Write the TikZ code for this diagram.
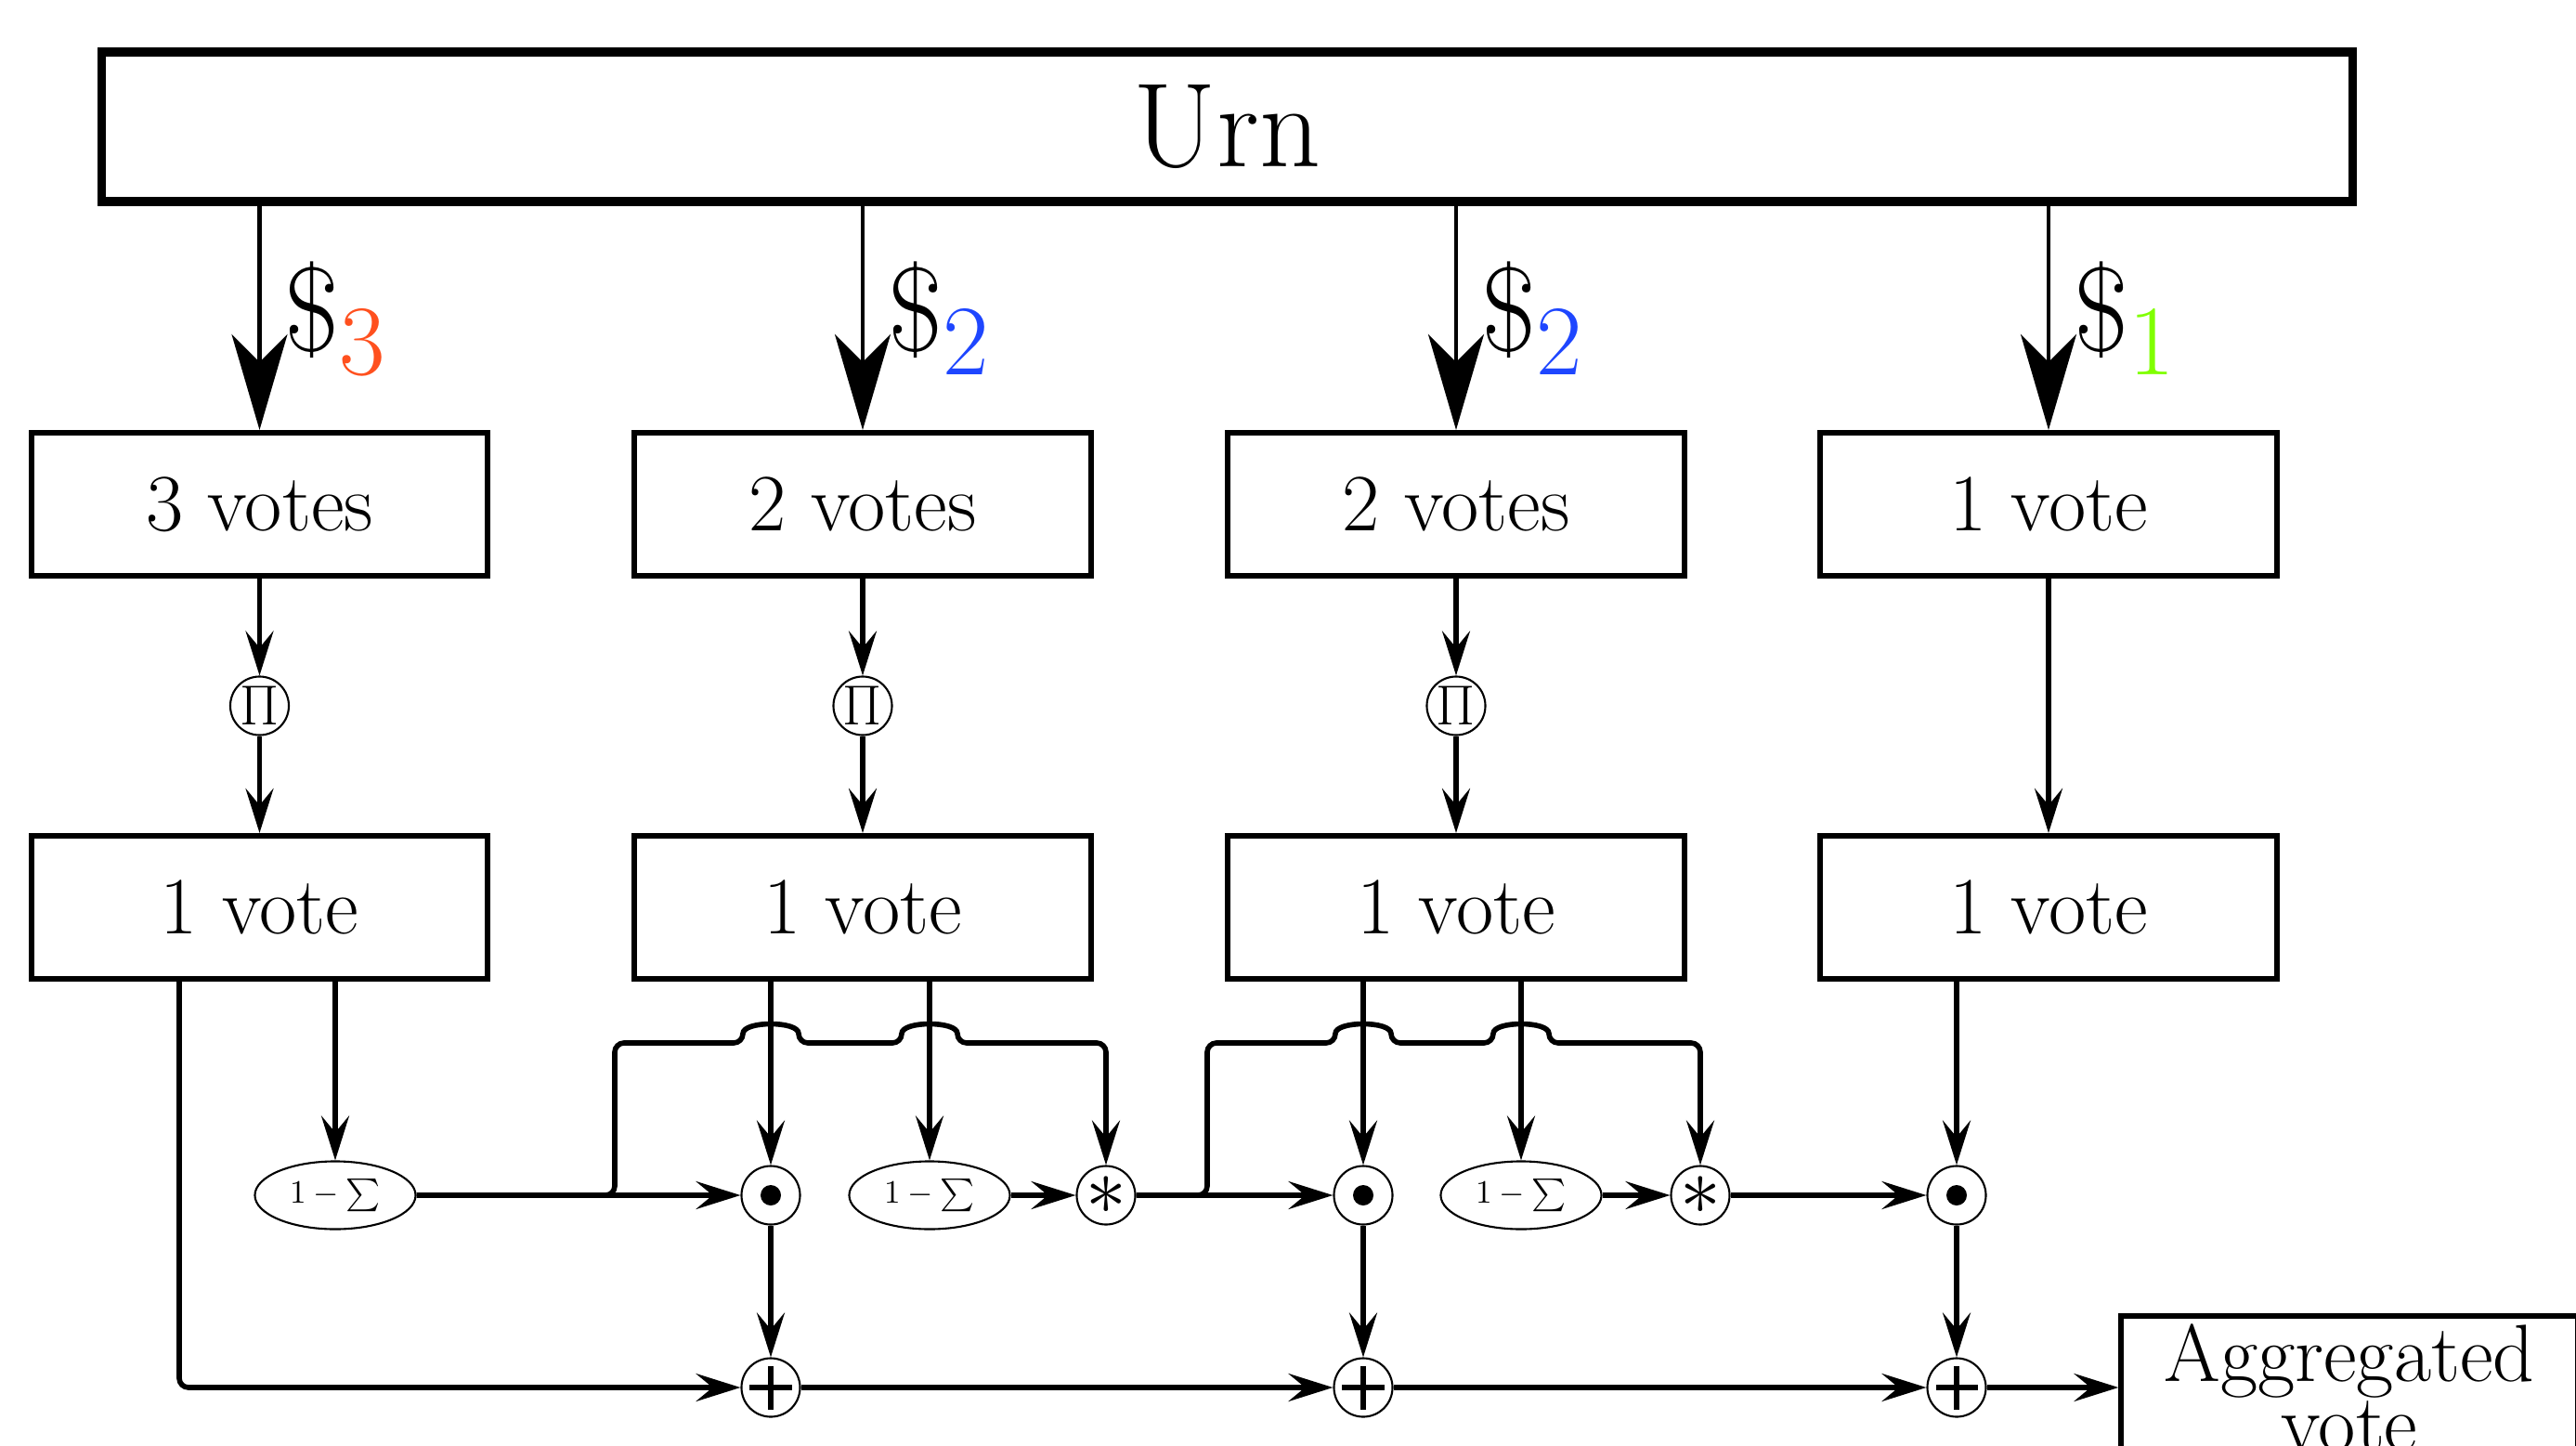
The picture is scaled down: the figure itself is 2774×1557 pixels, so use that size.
\documentclass[tikz,border=0pt]{standalone}
\usepackage{graphicx}
\usetikzlibrary{arrows.meta,shapes.geometric,calc}

\definecolor{vthree}{RGB}{255,80,30}
\definecolor{vtwo}{RGB}{30,70,255}
\definecolor{vone}{RGB}{128,255,0}

\tikzset{
  urnbox/.style={draw, line width=2.6pt, minimum width=24.23cm, minimum height=1.61cm,
    inner sep=0pt, font=\fontsize{36.7}{44}\selectfont},
  votebox/.style={draw, line width=1.7pt, minimum width=4.91cm, minimum height=1.54cm,
    inner sep=0pt, font=\fontsize{24.88}{30}\selectfont},
  aggbox/.style={draw, line width=1.7pt, minimum width=4.91cm, minimum height=1.54cm,
    inner sep=0pt, align=center, font=\fontsize{24.88}{19}\selectfont},
  opnode/.style={draw, circle, line width=0.6pt, minimum size=0.63cm, inner sep=0pt},
  prodnode/.style={opnode, font=\fontsize{16.6}{20}\selectfont},
  dotnode/.style={opnode, path picture={\fill (path picture bounding box.center) circle[radius=0.11cm];}},
  astnode/.style={opnode, font=\fontsize{24.88}{28}\selectfont},
  plusnode/.style={opnode, path picture={
    \draw[line width=1.9pt]
      ([xshift=-0.225cm]path picture bounding box.center) -- ([xshift=0.225cm]path picture bounding box.center)
      ([yshift=-0.235cm]path picture bounding box.center) -- ([yshift=0.235cm]path picture bounding box.center);}},
  sumnode/.style={draw, ellipse, line width=0.6pt, minimum width=1.73cm,
    minimum height=0.73cm, inner sep=0pt, font=\fontsize{10}{12}\selectfont},
  bigflow/.style={line width=1.2pt, -{Stealth[length=1.03cm,width=0.6cm,inset=0.3cm]}},
  flow/.style={line width=1.6pt, -{Stealth[length=0.48cm,width=0.3cm,inset=0.18cm]}},
  dollar/.style={anchor=west, xshift=0.25cm, inner sep=0pt, font=\fontsize{24.88}{30}\selectfont},
}

% a small bump so that a horizontal line hops over a vertical one
\newcommand\hopover[1]{-- ($(#1)+(-30,0)$) .. controls ($(#1)+(-30,-24)$) and ($(#1)+(30,-24)$) .. ($(#1)+(30,0)$)}
% money label: dollar sign with a coloured index
\newcommand\money[2]{\scalebox{1.475}{$\$_{\color{#1}#2}$}}

\begin{document}
\begin{tikzpicture}[x=0.01cm,y=-0.01cm]
\useasboundingbox (0,0) rectangle (2774,1557);
\clip (0,0) rectangle (2774,1557);

% urn and vote boxes
\node[urnbox] (urn) at (1321.5,136.5) {Urn};
\node[votebox] (b11) at (279.5,543) {3 votes};
\node[votebox] (b12) at (929,543) {2 votes};
\node[votebox] (b13) at (1568,543) {2 votes};
\node[votebox] (b14) at (2206,543) {1 vote};
\node[votebox] (b21) at (279.5,977) {1 vote};
\node[votebox] (b22) at (929,977) {1 vote};
\node[votebox] (b23) at (1568,977) {1 vote};
\node[votebox] (b24) at (2206,977) {1 vote};

% projections
\node[prodnode] (p1) at (279.5,760) {$\Pi$};
\node[prodnode] (p2) at (929,760) {$\Pi$};
\node[prodnode] (p3) at (1568,760) {$\Pi$};

% combination stage
\node[sumnode] (e1) at (361,1287) {$1-\sum$};
\node[sumnode] (e2) at (1001,1287) {$1-\sum$};
\node[sumnode] (e3) at (1638,1287) {$1-\sum$};
\node[dotnode] (d1) at (830,1287) {};
\node[dotnode] (d2) at (1468,1287) {};
\node[dotnode] (d3) at (2107,1287) {};
\node[astnode] (s1) at (1191,1287) {$\ast$};
\node[astnode] (s2) at (1831,1287) {$\ast$};
\node[plusnode] (a1) at (830,1494) {};
\node[plusnode] (a2) at (1468,1494) {};
\node[plusnode] (a3) at (2107,1494) {};
\node[aggbox] (agg) at (2530,1494) {Aggregated\\vote};

% money flowing from the urn
\draw[bigflow] (urn.south -| b11) -- node[dollar] (l1) {\money{vthree}{3}} (b11.north);
\draw[bigflow] (urn.south -| b12) -- node[dollar] (l2) {\money{vtwo}{2}} (b12.north);
\draw[bigflow] (urn.south -| b13) -- node[dollar] (l3) {\money{vtwo}{2}} (b13.north);
\draw[bigflow] (urn.south -| b14) -- node[dollar] (l4) {\money{vone}{1}} (b14.north);

% reduction to one vote
\draw[flow] (b11) -- (p1);
\draw[flow] (p1) -- (b21);
\draw[flow] (b12) -- (p2);
\draw[flow] (p2) -- (b22);
\draw[flow] (b13) -- (p3);
\draw[flow] (p3) -- (b23);
\draw[flow] (b14) -- (b24);

% outputs of the single-vote boxes
\draw[flow, rounded corners=0.1cm] (193,0 |- b21.south) -- (193,0 |- a1) -- (a1);
\draw[flow] (e1 |- b21.south) -- (e1);
\draw[flow] (d1 |- b22.south) -- (d1);
\draw[flow] (e2 |- b22.south) -- (e2);
\draw[flow] (d2 |- b23.south) -- (d2);
\draw[flow] (e3 |- b23.south) -- (e3);
\draw[flow] (d3 |- b24.south) -- (d3);

% remaining mass and its weighting
\coordinate (j1) at (662,1123);
\coordinate (j2) at (1300,1123);
\coordinate (h1) at (d1 |- j1);
\coordinate (h2) at (e2 |- j1);
\coordinate (h3) at (d2 |- j2);
\coordinate (h4) at (e3 |- j2);

\draw[flow] (e1) -- (d1);
\draw[flow, rounded corners=0.1cm] (e1.east) -- (j1 |- e1) -- (j1)
  \hopover{h1} \hopover{h2} -- (s1 |- j1) -- (s1);
\draw[flow] (e2) -- (s1);
\draw[flow] (s1) -- (d2);
\draw[flow, rounded corners=0.1cm] (s1.east) -- (j2 |- s1) -- (j2)
  \hopover{h3} \hopover{h4} -- (s2 |- j2) -- (s2);
\draw[flow] (e3) -- (s2);
\draw[flow] (s2) -- (d3);

% aggregation
\draw[flow] (d1) -- (a1);
\draw[flow] (d2) -- (a2);
\draw[flow] (d3) -- (a3);
\draw[flow] (a1) -- (a2);
\draw[flow] (a2) -- (a3);
\draw[flow] (a3) -- (agg);
\end{tikzpicture}
\end{document}
